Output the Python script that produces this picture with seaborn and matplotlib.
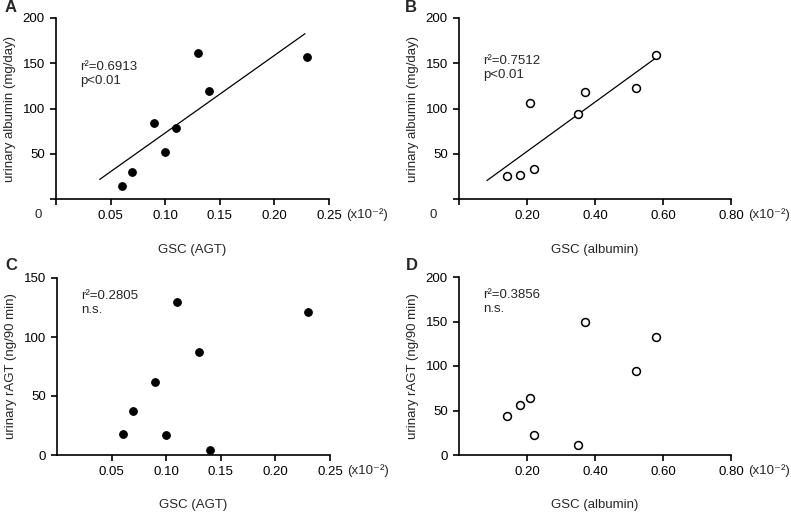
import numpy as np
import pandas as pd
import matplotlib
matplotlib.use("Agg")
import matplotlib.pyplot as plt
import seaborn as sns

# GSC values (x10^-2)
gsc_agt = [0.06, 0.07, 0.09, 0.10, 0.11, 0.13, 0.14, 0.23]
gsc_alb = [0.14, 0.18, 0.21, 0.22, 0.35, 0.37, 0.52, 0.58]

# panel A / B: urinary albumin (mg/day)
alb_vs_agt = [14.7, 29.4, 84.2, 51.8, 79.0, 161.0, 118.8, 156.6]
alb_vs_alb = [25.7, 26.0, 106.6, 32.7, 93.8, 118.4, 122.8, 158.8]

# panel C / D: urinary rAGT (ng/90 min)
ragt_vs_agt = [17.8, 37.1, 62.0, 17.0, 129.6, 87.7, 4.2, 121.1]
ragt_vs_alb = [43.6, 56.0, 64.0, 22.6, 10.9, 150.0, 94.0, 133.0]

stats_a = "r\u00b2=0.6913\np<0.01"
stats_b = "r\u00b2=0.7512\np<0.01"
stats_c = "r\u00b2=0.2805\nn.s."
stats_d = "r\u00b2=0.3856\nn.s."

sns.set_style("ticks")
plt.rcParams['font.family'] = ['Liberation Sans', 'DejaVu Sans']
plt.rcParams['axes.linewidth'] = 1.2
plt.rcParams['xtick.major.width'] = 1.2
plt.rcParams['ytick.major.width'] = 1.2
plt.rcParams['xtick.major.size'] = 4
plt.rcParams['ytick.major.size'] = 4
plt.rcParams['xtick.color'] = 'black'
plt.rcParams['ytick.color'] = 'black'
plt.rcParams['axes.edgecolor'] = 'black'

fig = plt.figure(figsize=(7.91, 5.12), dpi=100)

W, H = 791, 512


def make_axes(left, top, right, bottom):
    return fig.add_axes([left / W, 1 - bottom / H, (right - left) / W, (bottom - top) / H])


axA = make_axes(56, 18, 329, 199)
axB = make_axes(459, 18, 731, 199)
axC = make_axes(57, 278, 330, 455)
axD = make_axes(459, 277, 731, 455)


def scatter(ax, x, y, filled):
    df = pd.DataFrame({'x': x, 'y': y})
    if filled:
        sns.scatterplot(data=df, x='x', y='y', ax=ax, color='black', s=30,
                        edgecolor='black', linewidth=0.8, zorder=3)
    else:
        sns.scatterplot(data=df, x='x', y='y', ax=ax, facecolor='white', s=32,
                        edgecolor='black', linewidth=1.1, zorder=3)


def fit_line(ax, x, y, x0, x1):
    slope, icpt = np.polyfit(x, y, 1)
    lx = np.array([x0, x1])
    sns.lineplot(x=lx, y=slope * lx + icpt, ax=ax, color='black', linewidth=0.9)


scatter(axA, gsc_agt, alb_vs_agt, True)
fit_line(axA, gsc_agt, alb_vs_agt, 0.04, 0.228)
scatter(axB, gsc_alb, alb_vs_alb, False)
fit_line(axB, gsc_alb, alb_vs_alb, 0.082, 0.592)
scatter(axC, gsc_agt, ragt_vs_agt, True)
scatter(axD, gsc_alb, ragt_vs_alb, False)

fs = 9.5
unit = '(x10\u207b\u00b2)'

# panel A
axA.set_xlim(0, 0.25)
axA.set_ylim(0, 200)
axA.set_xticks([0, 0.05, 0.10, 0.15, 0.20, 0.25])
axA.set_xticklabels(['', '0.05', '0.10', '0.15', '0.20', '0.25'])
axA.set_yticks([0, 50, 100, 150, 200])
axA.set_yticklabels(['', '50', '100', '150', '200'])
axA.text(-0.066, -0.088, '0', transform=axA.transAxes, ha='center', va='center', fontsize=fs)
axA.set_ylabel('urinary albumin (mg/day)', fontsize=fs, labelpad=5)
axA.set_xlabel('GSC (AGT)', fontsize=fs, labelpad=16)
axA.text(0.088, 0.76, stats_a, transform=axA.transAxes, ha='left', va='top', fontsize=fs, linespacing=1.2)

# panel B
axB.set_xlim(0, 0.8)
axB.set_ylim(0, 200)
axB.set_xticks([0, 0.2, 0.4, 0.6, 0.8])
axB.set_xticklabels(['', '0.20', '0.40', '0.60', '0.80'])
axB.set_yticks([0, 50, 100, 150, 200])
axB.set_yticklabels(['', '50', '100', '150', '200'])
axB.text(-0.095, -0.088, '0', transform=axB.transAxes, ha='center', va='center', fontsize=fs)
axB.set_ylabel('urinary albumin (mg/day)', fontsize=fs, labelpad=5)
axB.set_xlabel('GSC (albumin)', fontsize=fs, labelpad=16)
axB.text(0.09, 0.795, stats_b, transform=axB.transAxes, ha='left', va='top', fontsize=fs, linespacing=1.2)

# panel C
axC.set_xlim(0, 0.25)
axC.set_ylim(0, 150)
axC.set_xticks([0.05, 0.10, 0.15, 0.20, 0.25])
axC.set_xticklabels(['0.05', '0.10', '0.15', '0.20', '0.25'])
axC.set_yticks([0, 50, 100, 150])
axC.set_ylabel('urinary rAGT (ng/90 min)', fontsize=fs, labelpad=5)
axC.set_xlabel('GSC (AGT)', fontsize=fs, labelpad=15)
axC.text(0.09, 0.93, stats_c, transform=axC.transAxes, ha='left', va='top', fontsize=fs, linespacing=1.2)

# panel D
axD.set_xlim(0, 0.8)
axD.set_ylim(0, 200)
axD.set_xticks([0.2, 0.4, 0.6, 0.8])
axD.set_xticklabels(['0.20', '0.40', '0.60', '0.80'])
axD.set_yticks([0, 50, 100, 150, 200])
axD.set_ylabel('urinary rAGT (ng/90 min)', fontsize=fs, labelpad=5)
axD.set_xlabel('GSC (albumin)', fontsize=fs, labelpad=15)
axD.text(0.09, 0.93, stats_d, transform=axD.transAxes, ha='left', va='top', fontsize=fs, linespacing=1.2)

for ax in [axA, axB, axC, axD]:
    sns.despine(ax=ax)
    ax.tick_params(labelsize=fs, direction='out', pad=4)
    ax.text(1.063, -0.088, unit, transform=ax.transAxes, ha='left', va='center', fontsize=fs)

for lbl, x, y in [('A', 5, 8), ('B', 405, 8), ('C', 5, 266), ('D', 406, 266)]:
    fig.text(x / W, 1 - y / H, lbl, ha='left', va='center', fontsize=12, fontweight='bold')

fig.savefig('out.png', dpi=100)
